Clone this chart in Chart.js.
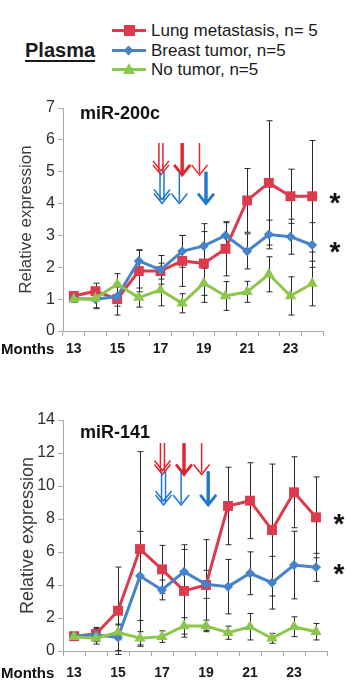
<!DOCTYPE html>
<html>
<head>
<meta charset="utf-8">
<script src="https://cdn.jsdelivr.net/npm/chart.js@4.4.1/dist/chart.umd.min.js"></script>
<style>
body { margin:0; width:351px; height:688px; background:#fff; position:relative; overflow:hidden;
       font-family:"Liberation Sans", Arial, sans-serif; }
canvas { position:absolute; left:0; }
#plasma { position:absolute; left:25px; top:39px; font-weight:bold; font-size:20px; color:#1a1a1a;
          text-decoration:underline; text-decoration-thickness:2px; text-underline-offset:3px; }
.leg { position:absolute; left:112px; height:19px; font-size:17px; color:#1a1a1a; white-space:nowrap; }
.leg .ln { position:absolute; left:0; top:8px; width:34px; height:3px; }
.leg .mk { position:absolute; }
.leg .tx { position:absolute; left:39px; top:0; line-height:19px; }
</style>
</head>
<body>
<div id="plasma">Plasma</div>
<div id="legend"></div>
<canvas id="chart200c" width="351" height="275" style="top:91px"></canvas>
<canvas id="chart141" width="351" height="288" style="top:400px"></canvas>
<script>
//////////////////
// data

var months = ['13','14','15','16','17','18','19','20','21','22','23','24'];
var seriesNames = ['Lung metastasis, n= 5', 'Breast tumor, n=5', 'No tumor, n=5'];
var seriesColors = ['#db3b4b', '#4683c8', '#8dc64c'];

// miR-200c
var lung200 = [1.1, 1.25, 1.0, 1.88, 1.88, 2.2, 2.12, 2.58, 4.1, 4.65, 4.23, 4.23];
var lung200Err = [0.12, 0.25, 0.5, 0.65, 0.25, 0.8, 1.0, 0.85, 1.0, 1.95, 0.85, 1.75];
var breast200 = [1.02, 1.0, 1.08, 2.2, 1.92, 2.5, 2.67, 3.0, 2.5, 3.03, 2.96, 2.7];
var breast200Err = [0.1, 0.3, 0.3, 0.35, 0.45, 0.5, 0.7, 0.4, 0.55, 0.45, 0.55, 0.7];
var none200 = [1.0, 1.03, 1.47, 1.05, 1.29, 0.87, 1.5, 1.1, 1.23, 1.78, 1.1, 1.49];
var none200Err = [0.1, 0.3, 0.33, 0.3, 0.5, 0.3, 0.6, 0.45, 0.33, 0.55, 0.6, 0.7];

// miR-141
var lung141 = [0.9, 1.03, 2.44, 6.18, 4.95, 3.64, 4.0, 8.79, 9.11, 7.33, 9.62, 8.1];
var lung141Err = [0.2, 0.4, 2.65, 5.9, 1.45, 2.8, 2.75, 2.35, 2.3, 4.0, 2.15, 2.45];
var breast141 = [0.91, 0.97, 0.83, 4.55, 3.7, 4.81, 4.04, 3.9, 4.71, 4.14, 5.21, 5.07];
var breast141Err = [0.2, 0.4, 0.8, 2.7, 0.6, 1.35, 0.85, 1.65, 1.3, 1.6, 2.05, 0.85];
var none141 = [0.87, 0.77, 1.13, 0.77, 0.87, 1.52, 1.52, 1.11, 1.47, 0.77, 1.47, 1.17];
var none141Err = [0.15, 0.35, 0.45, 0.4, 0.35, 0.5, 0.35, 0.4, 0.8, 0.3, 0.6, 0.5];

// treatment arrows: category index, kind
var redArrows = [[4.02, 'double'], [5.0, 'thick'], [5.8, 'thin']];
var blueArrows = [[4.07, 'double'], [4.87, 'thin'], [6.1, 'thick']];

var FONT = '"Liberation Sans", Arial, sans-serif';

//////////////////
// legend (html)

var legend = document.getElementById('legend');
var markerCss = [
  'left:12px;top:4px;width:11px;height:11px;',
  'left:13px;top:6px;width:7px;height:7px;transform:rotate(45deg);',
  'left:11px;top:3px;width:0;height:0;border-left:6px solid transparent;border-right:6px solid transparent;border-bottom:11px solid ' + seriesColors[2] + ';'
];
seriesNames.forEach(function(name, i) {
  var row = document.createElement('div');
  row.className = 'leg';
  row.style.top = (21 + i * 19.5) + 'px';
  var bg = i < 2 ? 'background:' + seriesColors[i] + ';' : '';
  row.innerHTML = '<span class="ln" style="background:' + seriesColors[i] + '"></span>' +
    '<span class="mk" style="' + markerCss[i] + bg + '"></span>' +
    '<span class="tx">' + name + '</span>';
  legend.appendChild(row);
});

//////////////////
// plugins

var errorBars = {
  id: 'errorBars',
  beforeDatasetsDraw: function(chart) {
    var ctx = chart.ctx, ys = chart.scales.y;
    ctx.save();
    ctx.strokeStyle = '#2a2a2a';
    ctx.lineWidth = 1;
    chart.data.datasets.forEach(function(ds, i) {
      chart.getDatasetMeta(i).data.forEach(function(pt, j) {
        var hi = ys.getPixelForValue(ds.data[j] + ds.errors[j]);
        var lo = ys.getPixelForValue(ds.data[j] - ds.errors[j]);
        var x = Math.round(pt.x) + 0.5;
        ctx.beginPath();
        ctx.moveTo(x, hi); ctx.lineTo(x, lo);
        ctx.moveTo(x - 3, hi); ctx.lineTo(x + 3, hi);
        ctx.moveTo(x - 3, lo); ctx.lineTo(x + 3, lo);
        ctx.stroke();
      });
    });
    ctx.restore();
  }
};

function drawArrow(ctx, x, y0, y1, kind, color) {
  ctx.strokeStyle = color;
  ctx.lineCap = 'butt';
  ctx.lineWidth = kind == 'thick' ? 3.4 : 1.5;
  ctx.beginPath();
  if (kind == 'double') {
    ctx.moveTo(x - 2, y0); ctx.lineTo(x - 2, y1 - 3);
    ctx.moveTo(x + 2, y0); ctx.lineTo(x + 2, y1 - 3);
  } else {
    ctx.moveTo(x, y0); ctx.lineTo(x, y1 - 2);
  }
  ctx.stroke();
  ctx.lineWidth = kind == 'thick' ? 2.8 : 1.5;
  ctx.beginPath();
  ctx.moveTo(x - 8, y1 - 10); ctx.lineTo(x, y1); ctx.lineTo(x + 8, y1 - 10);
  if (kind == 'double') {
    ctx.moveTo(x - 8, y1 - 14); ctx.lineTo(x, y1 - 4); ctx.lineTo(x + 8, y1 - 14);
  }
  ctx.stroke();
}

function makeMarks(cfg) {
  return {
    id: 'marks',
    afterDatasetsDraw: function(chart) {
      var ctx = chart.ctx, xs = chart.scales.x, ys = chart.scales.y, area = chart.chartArea;
      ctx.save();
      ctx.fillStyle = '#111';
      ctx.font = 'bold 18px ' + FONT;
      ctx.textBaseline = 'middle';
      ctx.textAlign = 'left';
      ctx.fillText(cfg.title, area.left + 17, area.top + cfg.titleDy);

      redArrows.forEach(function(a) {
        drawArrow(ctx, xs.getPixelForValue(a[0]), ys.getPixelForValue(cfg.red[0]), ys.getPixelForValue(cfg.red[1]), a[1], '#e3232b');
      });
      blueArrows.forEach(function(a) {
        drawArrow(ctx, xs.getPixelForValue(a[0]), ys.getPixelForValue(cfg.blue[0]), ys.getPixelForValue(cfg.blue[1]), a[1], '#1f78cf');
      });

      // significance stars next to the last lung / breast points
      ctx.font = 'bold 28px ' + FONT;
      ctx.textAlign = 'center';
      ctx.textBaseline = 'alphabetic';
      ctx.fillStyle = '#111';
      chart.data.datasets.forEach(function(ds, i) {
        if (ds.label == seriesNames[2]) return;
        var pts = chart.getDatasetMeta(i).data;
        ctx.fillText('*', area.right + 12, pts[pts.length - 1].y + 16);
      });

      ctx.font = 'bold 15px ' + FONT;
      ctx.textAlign = 'left';
      ctx.textBaseline = 'middle';
      ctx.fillText('Months', 1, area.bottom + cfg.monthsDy);
      ctx.restore();
    }
  };
}

function makeChart(id, data, cfg) {
  var pointStyles = ['rect', 'rectRot', 'triangle'];
  var radii = [7, 5, 6.5];
  var datasets = data.map(function(d, i) {
    return {
      label: seriesNames[i],
      data: d[0],
      errors: d[1],
      borderColor: seriesColors[i],
      backgroundColor: seriesColors[i],
      borderWidth: 3,
      pointStyle: pointStyles[i],
      pointRadius: radii[i],
      pointBorderWidth: 0,
      tension: 0
    };
  });
  // draw red on top
  datasets.reverse();
  return new Chart(document.getElementById(id).getContext('2d'), {
    type: 'line',
    data: { labels: months, datasets: datasets },
    options: {
      responsive: false,
      animation: false,
      devicePixelRatio: 1,
      layout: { padding: cfg.padding },
      plugins: { legend: { display: false }, tooltip: { enabled: false } },
      scales: {
        x: {
          offset: true,
          grid: { drawOnChartArea: false, offset: true, tickLength: 5, color: '#a8a8a8' },
          border: { color: '#a8a8a8' },
          ticks: {
            autoSkip: false, maxRotation: 0, padding: cfg.xPad, color: '#1a1a1a',
            font: { family: FONT, size: 14, weight: 'bold' },
            callback: function(v, i) { return i % 2 === 0 ? this.getLabelForValue(v) : ''; }
          },
          afterFit: function(s) { s.height = 30; }
        },
        y: {
          min: 0, max: cfg.max,
          grid: { drawOnChartArea: false, tickLength: 5, color: '#a8a8a8' },
          border: { color: '#a8a8a8' },
          ticks: { stepSize: cfg.step, padding: 3, color: '#2e2e2e', font: { family: FONT, size: 16 } },
          title: { display: true, text: 'Relative expression', color: '#3a3a3a',
                   font: { family: FONT, size: cfg.titleSize }, padding: { top: cfg.titlePad, bottom: 0 } },
          afterFit: function(s) { s.width = 63; }
        }
      }
    },
    plugins: [errorBars, makeMarks(cfg)]
  });
}

var chart200 = makeChart('chart200c',
  [[lung200, lung200Err], [breast200, breast200Err], [none200, none200Err]],
  { padding: { left: 0, right: 28, top: 17, bottom: 5 }, max: 7, step: 1, xPad: 5,
    titleSize: 17, titlePad: 16, title: 'miR-200c', titleDy: 6, monthsDy: 19,
    red: [5.9, 4.9], blue: [5.0, 4.0] });

var chart141 = makeChart('chart141',
  [[lung141, lung141Err], [breast141, breast141Err], [none141, none141Err]],
  { padding: { left: 0, right: 24, top: 20, bottom: 7 }, max: 14, step: 2, xPad: 9,
    titleSize: 18, titlePad: 17, title: 'miR-141', titleDy: 13, monthsDy: 23,
    red: [12.6, 10.7], blue: [10.9, 8.85] });
</script>
</body>
</html>
